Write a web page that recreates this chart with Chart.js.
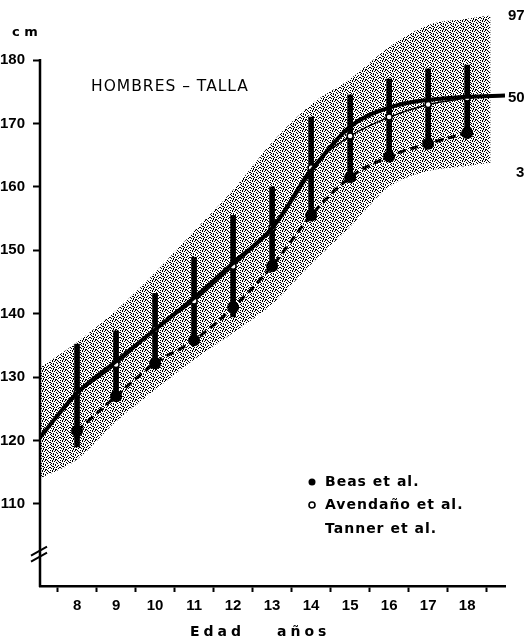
<!DOCTYPE html>
<html><head><meta charset="utf-8">
<script src="https://cdn.jsdelivr.net/npm/chart.js@4.4.1/dist/chart.umd.min.js"></script>
<style>html,body{margin:0;padding:0;background:#fff}canvas{display:block}</style>
</head><body>
<canvas id="c" width="532" height="640"></canvas>
<script>
// ---- data ----
const ages = [8, 9, 10, 11, 12, 13, 14, 15, 16, 17, 18];
const xTickYears = [8, 9, 10, 11, 12, 13, 14, 15, 16, 17, 18];
const yTickValues = [110, 120, 130, 140, 150, 160, 170, 180];

// Tanner et al. percentiles
const tannerAges = [7.05, 8, 9, 10, 11, 12, 13, 14, 15, 16, 17, 18, 18.97];
const tannerP50 = [120.5, 127.5, 132.5, 137.5, 142.5, 148, 153.5, 162.5, 169.5, 172.5, 173.7, 174.2, 174.4];
const bandAges = [7.05, 8, 9, 10, 11, 12, 13, 14, 15, 16, 17, 18, 18.6];
const tannerP97 = [131.5, 135.5, 140.5, 146.5, 153, 159.5, 167, 173, 177, 182, 185.5, 186.5, 187];
const tannerP3 = [114, 117, 123, 128, 132.8, 137, 141.5, 147.8, 153.7, 160, 162.5, 163.3, 163.8];

// Beas et al. (filled dots, dashed line)
const beas = [121.5, 127, 132.2, 135.8, 141, 147.5, 155.5, 161.5, 164.8, 166.8, 168.5];

// Avendaño et al. (open circles with vertical bars)
const avendanoMean = [127.5, 132, 137.5, 142, 147.5, 153.5, 163, 168, 171, 173, 174];
const avendanoLow = [119, 126.4, 131.4, 135.4, 139.5, 146.9, 155.2, 161, 164.7, 166.9, 168.5];
const avendanoHigh = [135.2, 137.3, 143.2, 148.9, 155.5, 160, 171, 174.5, 177, 178.6, 179.2];

const titleText = 'HOMBRES – TALLA';
const unitText = 'c m';
const legendLabels = ['Beas et al.', 'Avendaño et al.', 'Tanner et al.'];
const percentileLabels = ['97', '50', '3'];
const xTitleParts = ['Edad', 'años'];

// ---- stipple texture for the 3–97 band ----
const canvas = document.getElementById('c');
const ctx = canvas.getContext('2d');
function stipple() {
  const rows = [
    'x.x..x.x..',
    '..x.x...x.',
    'x.....x..x',
    '.x.x...x..',
    'x..x.x....',
    '.x...x..x.',
    '..xx...x..',
    'x...x.x..x',
    '.x.x....x.',
    '...x.xx...'
  ];
  const t = document.createElement('canvas');
  t.width = rows[0].length; t.height = rows.length;
  const g = t.getContext('2d');
  g.fillStyle = '#000';
  rows.forEach((r, j) => [...r].forEach((c, i) => { if (c === 'x') g.fillRect(i, j, 1, 1); }));
  return ctx.createPattern(t, 'repeat');
}

const xy = (xs, ys) => xs.map((x, i) => ({ x, y: ys[i] }));

const decor = {
  id: 'decor',
  afterDraw(chart) {
    const c = chart.ctx, ys = chart.scales.y, ca = chart.chartArea;
    const spacing = px => { if ('letterSpacing' in c) c.letterSpacing = px; };
    c.save();
    c.strokeStyle = '#000'; c.fillStyle = '#000';
    // y axis line
    c.lineWidth = 2.5;
    c.beginPath();
    c.moveTo(ca.left, ys.getPixelForValue(180) - 1);
    c.lineTo(ca.left, ca.bottom + 1);
    c.stroke();
    // axis break marks
    c.lineWidth = 2;
    const yb = ys.getPixelForValue(102.5);
    c.beginPath();
    c.moveTo(ca.left - 9, yb + 4); c.lineTo(ca.left + 7, yb - 5);
    c.moveTo(ca.left - 9, yb + 10); c.lineTo(ca.left + 7, yb + 1);
    c.stroke();
    c.textAlign = 'left'; c.textBaseline = 'middle';
    // unit
    c.font = 'bold 13px "DejaVu Sans"';
    c.fillText(unitText, 12, 33);
    // title
    c.font = '15.5px "DejaVu Sans"';
    spacing('1px');
    c.fillText(titleText, 91, 87);
    spacing('0px');
    // percentile labels
    c.font = 'bold 15px "Liberation Sans"';
    c.fillText(percentileLabels[0], 508, ys.getPixelForValue(tannerP97[tannerP97.length - 1]));
    c.fillText(percentileLabels[1], 508, ys.getPixelForValue(tannerP50[tannerP50.length - 1]) + 2);
    c.fillText(percentileLabels[2], 516, ys.getPixelForValue(tannerP3[tannerP3.length - 1]) + 10);
    // legend
    c.beginPath(); c.arc(312, 482, 3.5, 0, Math.PI * 2); c.fill();
    c.lineWidth = 1.6;
    c.beginPath(); c.arc(312, 505, 3, 0, Math.PI * 2); c.stroke();
    c.font = 'bold 14px "DejaVu Sans"';
    spacing('1px');
    c.fillText(legendLabels[0], 325, 482);
    c.fillText(legendLabels[1], 325, 505);
    c.fillText(legendLabels[2], 325, 529);
    // x axis title
    c.font = 'bold 14px "DejaVu Sans"';
    spacing('4px');
    c.fillText(xTitleParts[0], 190, 632);
    c.fillText(xTitleParts[1], 277, 632);
    c.restore();
  }
};

new Chart(ctx, {
  type: 'line',
  data: {
    datasets: [
      { label: 'Tanner 50', data: xy(tannerAges, tannerP50), borderColor: '#000', borderWidth: 4,
        pointRadius: 0, cubicInterpolationMode: 'monotone', fill: false, order: 0 },
      { label: legendLabels[1], data: xy(ages, avendanoMean), borderColor: '#000', borderWidth: 1.5,
        pointRadius: 3, pointBackgroundColor: '#fff', pointBorderColor: '#000', pointBorderWidth: 1.5,
        cubicInterpolationMode: 'monotone', fill: false, order: 1 },
      { label: legendLabels[0], data: xy(ages, beas), borderColor: '#000', borderWidth: 3, borderDash: [8, 5],
        pointRadius: 4.5, pointBackgroundColor: '#000', pointBorderColor: '#000',
        cubicInterpolationMode: 'monotone', fill: false, order: 2 },
      { type: 'bar', label: 'bars', data: ages.map((a, i) => ({ x: a, y: [avendanoLow[i], avendanoHigh[i]] })),
        backgroundColor: '#000', borderWidth: 0, barThickness: 5, order: 3 },
      { label: 'P97', data: xy(bandAges, tannerP97), borderColor: 'rgba(0,0,0,0)', borderWidth: 0,
        pointRadius: 0, cubicInterpolationMode: 'monotone', fill: false, order: 10 },
      { label: 'P3', data: xy(bandAges, tannerP3), borderColor: 'rgba(0,0,0,0)', borderWidth: 0,
        pointRadius: 0, cubicInterpolationMode: 'monotone', fill: '-1', backgroundColor: stipple(), order: 11 }
    ]
  },
  options: {
    responsive: false,
    devicePixelRatio: 1,
    animation: false,
    layout: { autoPadding: false, padding: { left: 0, right: 27, top: 0, bottom: 0 } },
    plugins: { legend: { display: false }, tooltip: { enabled: false } },
    scales: {
      x: {
        type: 'linear', min: 7.05, max: 18.97, offset: false,
        afterBuildTicks: s => { s.ticks = xTickYears.map(v => ({ value: v })); },
        afterFit: s => { s.height = 54; s.paddingLeft = 0; s.paddingRight = 0; },
        grid: { drawOnChartArea: false, drawTicks: true, tickLength: 6, tickColor: '#000', tickWidth: 2 },
        border: { display: true, color: '#000', width: 2.5 },
        ticks: { color: '#000', font: { family: 'Liberation Sans', weight: 'bold', size: 15 }, padding: 5, maxRotation: 0 }
      },
      y: {
        type: 'linear', min: 97.07, max: 189.46,
        afterBuildTicks: s => { s.ticks = yTickValues.map(v => ({ value: v })); },
        afterFit: s => { s.width = 40; s.paddingTop = 0; s.paddingBottom = 0; },
        grid: { drawOnChartArea: false, drawTicks: true, tickLength: 7, tickColor: '#000', tickWidth: 2 },
        border: { display: false },
        ticks: { color: '#000', font: { family: 'Liberation Sans', weight: 'bold', size: 15 }, padding: 8 }
      }
    }
  },
  plugins: [decor]
});
</script>
</body></html>
